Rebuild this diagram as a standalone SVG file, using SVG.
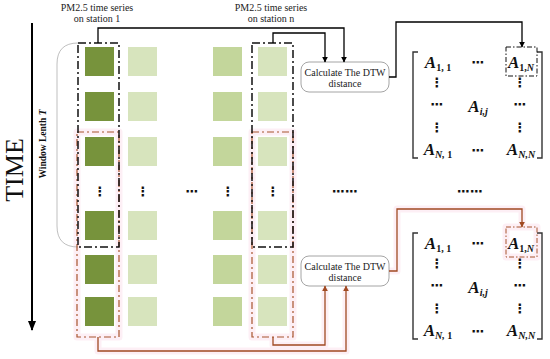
<svg xmlns="http://www.w3.org/2000/svg" width="550" height="359" viewBox="0 0 550 359">
<defs>
<marker id="ab" viewBox="0 0 10 10" refX="9" refY="5" markerWidth="6" markerHeight="6" orient="auto" markerUnits="userSpaceOnUse"><path d="M0,0 L10,5 L0,10 z" fill="#000"/></marker>
<marker id="ar" viewBox="0 0 10 10" refX="9" refY="5" markerWidth="6" markerHeight="6" orient="auto" markerUnits="userSpaceOnUse"><path d="M0,0 L10,5 L0,10 z" fill="#a04a22"/></marker>
<marker id="at" viewBox="0 0 10 10" refX="9" refY="5" markerWidth="10" markerHeight="10" orient="auto" markerUnits="userSpaceOnUse"><path d="M0,1 L10,5 L0,9 z" fill="#000"/></marker>
</defs>
<style>
.dk{fill:#77933c}
.lt{fill:#d7e4bd}
.md{fill:#c3d69b}
.lbl{font-family:"Liberation Serif","Times New Roman",serif;font-size:10px;fill:#222;text-anchor:middle}
.box{fill:#fff;stroke:#9a9a9a;stroke-width:0.9}
.bk{fill:none;stroke:#000;stroke-width:1.3}
.br{fill:none;stroke:#a04a22;stroke-width:1.3}
.glow{fill:none;stroke:#fdeff5;stroke-width:7;stroke-linejoin:round}
.dashb{fill:none;stroke:#111;stroke-width:1.5;stroke-dasharray:8 3 2 3}
.dashr{fill:none;stroke:#a8542e;stroke-width:1.2;stroke-dasharray:7 3 2 3}
.mx{font-family:"Liberation Serif","Times New Roman",serif;font-size:17px;font-style:italic;font-weight:bold;fill:#111;text-anchor:middle}
.sb{font-size:10px}
.up{font-style:normal}
.dot{font-family:"DejaVu Sans",sans-serif;font-size:13px;font-weight:bold;fill:#111;text-anchor:middle}
.brk{fill:none;stroke:#333;stroke-width:1.4}
</style>

<g id="glow">
<rect class="glow" x="77" y="132" width="42" height="205"/>
<rect class="glow" x="252" y="132" width="41" height="205"/>
<path class="glow" d="M98,337 V351 H346 V288"/>
<path class="glow" d="M273,337 V345 H325 V288"/>
<path class="glow" d="M389,271 H397 V209 H522 V225"/>
<rect class="glow" x="506" y="227" width="31" height="30"/>
</g>

<g id="time-axis">
<line x1="32" y1="23" x2="32" y2="330" stroke="#000" stroke-width="2" marker-end="url(#at)"/>
<text transform="translate(23,170) rotate(-90)" font-family="Liberation Serif, Times New Roman, serif" font-size="26" fill="#111" text-anchor="middle">TIME</text>
</g>

<g id="window">
<path d="M78,43 Q57,43 57,64 L57,226 Q57,247 78,247" fill="none" stroke="#bfbfbf" stroke-width="1"/>
<text transform="translate(46,144) rotate(-90)" font-family="Liberation Serif, Times New Roman, serif" font-size="9.5" font-weight="bold" fill="#111" text-anchor="middle">Window Lenth <tspan font-style="italic">T</tspan></text>
</g>

<g id="labels">
<text class="lbl" x="97" y="11">PM2.5 time series</text>
<text class="lbl" x="97" y="22">on station 1</text>
<text class="lbl" x="271" y="11">PM2.5 time series</text>
<text class="lbl" x="271" y="22">on station n</text>
</g>

<g id="station1">
<rect class="dk" x="85" y="47" width="29" height="29"/>
<rect class="dk" x="85" y="92" width="29" height="29"/>
<rect class="dk" x="85" y="137" width="29" height="29"/>
<rect class="dk" x="85" y="211" width="29" height="29"/>
<rect class="dk" x="85" y="255" width="29" height="29"/>
<rect class="dk" x="85" y="297" width="29" height="29"/>
<text class="dot" x="100" y="196">⋮</text>
</g>
<g id="station2">
<rect class="lt" x="128" y="47" width="29" height="29"/>
<rect class="lt" x="128" y="92" width="29" height="29"/>
<rect class="lt" x="128" y="137" width="29" height="29"/>
<rect class="lt" x="128" y="211" width="29" height="29"/>
<rect class="lt" x="128" y="255" width="29" height="29"/>
<rect class="lt" x="128" y="297" width="29" height="29"/>
<text class="dot" x="143" y="196">⋮</text>
</g>
<text class="dot" x="192" y="196">⋯</text>
<g id="station3">
<rect class="md" x="213" y="47" width="29" height="29"/>
<rect class="md" x="213" y="92" width="29" height="29"/>
<rect class="md" x="213" y="137" width="29" height="29"/>
<rect class="md" x="213" y="211" width="29" height="29"/>
<rect class="md" x="213" y="255" width="29" height="29"/>
<rect class="md" x="213" y="297" width="29" height="29"/>
<text class="dot" x="228" y="196">⋮</text>
</g>
<g id="stationN">
<rect class="lt" x="258" y="47" width="29" height="29"/>
<rect class="lt" x="258" y="92" width="29" height="29"/>
<rect class="lt" x="258" y="137" width="29" height="29"/>
<rect class="lt" x="258" y="211" width="29" height="29"/>
<rect class="lt" x="258" y="255" width="29" height="29"/>
<rect class="lt" x="258" y="297" width="29" height="29"/>
<text class="dot" x="273" y="196">⋮</text>
</g>
<text class="dot" x="345" y="196">⋯⋯</text>
<text class="dot" x="470" y="196">⋯⋯</text>

<g id="windows">
<rect class="dashr" x="77" y="132" width="42" height="205"/>
<rect class="dashr" x="252" y="132" width="41" height="205"/>
<rect class="dashb" x="78" y="43" width="41" height="204"/>
<rect class="dashb" x="252" y="43" width="41" height="204"/>
</g>

<g id="dtw1">
<rect class="box" x="301" y="62" width="88" height="30" rx="8"/>
<text class="lbl" x="345" y="76">Calculate The DTW</text>
<text class="lbl" x="345" y="87">distance</text>
</g>
<g id="dtw2">
<rect class="box" x="301" y="256" width="88" height="30" rx="8"/>
<text class="lbl" x="345" y="270">Calculate The DTW</text>
<text class="lbl" x="345" y="281">distance</text>
</g>

<g id="matrix1">
<path class="brk" d="M418,52 H413 V158 H418"/>
<path class="brk" d="M537,52 H542 V158 H537"/>
<text class="mx" x="438" y="68">A<tspan class="sb up" dy="3">1, 1</tspan></text>
<text class="dot" x="478" y="67">⋯</text>
<text class="mx" x="521" y="68">A<tspan class="sb" dy="3"><tspan class="up">1,</tspan>N</tspan></text>
<text class="dot" x="437" y="87">⋮</text>
<text class="dot" x="520" y="87">⋮</text>
<text class="dot" x="437" y="109">⋯</text>
<text class="mx" x="478" y="112">A<tspan class="sb" dy="3">i,j</tspan></text>
<text class="dot" x="520" y="109">⋯</text>
<text class="dot" x="437" y="132">⋮</text>
<text class="dot" x="520" y="132">⋮</text>
<text class="mx" x="438" y="155">A<tspan class="sb" dy="3">N,<tspan class="up"> 1</tspan></tspan></text>
<text class="dot" x="478" y="155">⋯</text>
<text class="mx" x="521" y="155">A<tspan class="sb" dy="3">N,N</tspan></text>
<rect x="506" y="47" width="31" height="29" fill="none" stroke="#111" stroke-width="1" stroke-dasharray="5 2 1.5 2"/>
</g>
<g id="matrix2">
<path class="brk" d="M418,233 H413 V339 H418"/>
<path class="brk" d="M537,233 H542 V339 H537"/>
<text class="mx" x="438" y="249">A<tspan class="sb up" dy="3">1, 1</tspan></text>
<text class="dot" x="478" y="248">⋯</text>
<text class="mx" x="521" y="249">A<tspan class="sb" dy="3"><tspan class="up">1,</tspan>N</tspan></text>
<text class="dot" x="437" y="268">⋮</text>
<text class="dot" x="520" y="268">⋮</text>
<text class="dot" x="437" y="290">⋯</text>
<text class="mx" x="478" y="293">A<tspan class="sb" dy="3">i,j</tspan></text>
<text class="dot" x="520" y="290">⋯</text>
<text class="dot" x="437" y="313">⋮</text>
<text class="dot" x="520" y="313">⋮</text>
<text class="mx" x="438" y="336">A<tspan class="sb" dy="3">N,<tspan class="up"> 1</tspan></tspan></text>
<text class="dot" x="478" y="336">⋯</text>
<text class="mx" x="521" y="336">A<tspan class="sb" dy="3">N,N</tspan></text>
<rect x="506" y="227" width="31" height="30" fill="none" stroke="#a8542e" stroke-width="1" stroke-dasharray="5 2 1.5 2"/>
</g>

<g id="connectors">
<path class="bk" d="M98,43 V28 H344 V62" marker-end="url(#ab)"/>
<path class="bk" d="M273,43 V33 H325 V62" marker-end="url(#ab)"/>
<path class="bk" d="M389,77 H396 V22 H522 V47" marker-end="url(#ab)"/>
<path class="br" d="M98,337 V351 H346 V286" marker-end="url(#ar)"/>
<path class="br" d="M273,337 V345 H325 V286" marker-end="url(#ar)"/>
<path class="br" d="M389,271 H397 V209 H522 V227" marker-end="url(#ar)"/>
</g>
</svg>
